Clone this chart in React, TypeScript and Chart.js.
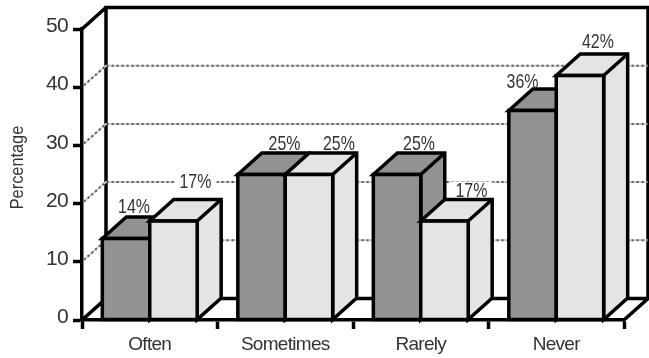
import { useEffect, useRef } from "react";
import { Chart, registerables } from "chart.js";

Chart.register(...registerables);

const categories = ["Often", "Sometimes", "Rarely", "Never"];
const seriesA = [14, 25, 25, 36];
const seriesB = [17, 25, 17, 42];
const gridValues = [10, 20, 30, 40];

// Depth of the extruded box, in canvas pixels.
const DEPTH_X = 24;
const DEPTH_Y = -21.5;
const OUTLINE = 3.5;
const DARK = "#929292";
const LIGHT = "#e4e4e4";
const TEXT = "#333";
const FONT_FAMILY = '"Liberation Sans", sans-serif';
const SQUEEZE = 0.76;

// Hand-placed label offsets from each bar's top face centre.
const labelNudgeA = [[-4, -4.5], [11, -3], [10, -3], [-22, -1]];
const labelNudgeB = [[10, -12], [18, -3], [15, -3], [6, -6]];

function paintDepth(chart: any, index: number) {
  const { ctx } = chart;
  const meta = chart.getDatasetMeta(index);
  ctx.save();
  ctx.lineWidth = OUTLINE;
  ctx.strokeStyle = "#000";
  ctx.lineJoin = "miter";
  ctx.fillStyle = chart.data.datasets[index].backgroundColor;
  meta.data.forEach((bar: any) => {
    const { x, y, base, width } = bar.getProps(["x", "y", "base", "width"], true);
    const l = x - width / 2;
    const r = x + width / 2;
    ctx.beginPath();
    ctx.moveTo(l, y);
    ctx.lineTo(l + DEPTH_X, y + DEPTH_Y);
    ctx.lineTo(r + DEPTH_X, y + DEPTH_Y);
    ctx.lineTo(r + DEPTH_X, base + DEPTH_Y);
    ctx.lineTo(r, base);
    ctx.lineTo(r, y);
    ctx.closePath();
    ctx.fill();
    ctx.stroke();
    ctx.beginPath();
    ctx.moveTo(r, y);
    ctx.lineTo(r + DEPTH_X, y + DEPTH_Y);
    ctx.stroke();
  });
  ctx.restore();
}

function paintOutline(chart: any, index: number) {
  const { ctx } = chart;
  ctx.save();
  ctx.lineWidth = OUTLINE;
  ctx.strokeStyle = "#000";
  chart.getDatasetMeta(index).data.forEach((bar: any) => {
    const { x, y, base, width } = bar.getProps(["x", "y", "base", "width"], true);
    // Centred on the bar's edge so neighbouring boxes share one line.
    ctx.strokeRect(x - width / 2, y, width, base - y);
  });
  ctx.restore();
}

const boxDepth = {
  id: "boxDepth",
  beforeDraw(chart: any) {
    // The axis text is set a little tighter than the stock face.
    chart.ctx.letterSpacing = "-0.7px";
  },
  // Back walls and floor, behind every bar.
  beforeDatasetsDraw(chart: any) {
    const { ctx, chartArea: a, scales } = chart;
    const y = scales.y;
    ctx.save();
    ctx.strokeStyle = "#000";
    ctx.lineWidth = OUTLINE;
    ctx.lineCap = "square";
    ctx.beginPath();
    ctx.moveTo(a.left, a.top);
    ctx.lineTo(a.left + DEPTH_X, a.top + DEPTH_Y);
    ctx.lineTo(a.right + DEPTH_X, a.top + DEPTH_Y);
    ctx.lineTo(a.right + DEPTH_X, a.bottom + DEPTH_Y);
    ctx.lineTo(a.right, a.bottom);
    ctx.moveTo(a.left + DEPTH_X, a.top + DEPTH_Y);
    ctx.lineTo(a.left + DEPTH_X, a.bottom + DEPTH_Y);
    ctx.lineTo(a.right + DEPTH_X, a.bottom + DEPTH_Y);
    ctx.moveTo(a.left, a.bottom);
    ctx.lineTo(a.left + DEPTH_X, a.bottom + DEPTH_Y);
    ctx.stroke();
    ctx.lineCap = "butt";
    gridValues.forEach((v) => {
      const py = y.getPixelForValue(v);
      ctx.lineWidth = 2;
      ctx.strokeStyle = "#cfcfcf";
      ctx.setLineDash([]);
      ctx.beginPath();
      ctx.moveTo(a.left + 2, py - 2);
      ctx.lineTo(a.left + DEPTH_X, py + DEPTH_Y);
      ctx.lineTo(a.right + DEPTH_X, py + DEPTH_Y);
      ctx.stroke();
      ctx.strokeStyle = "#555";
      ctx.setLineDash([2, 3]);
      ctx.beginPath();
      ctx.moveTo(a.left + 2, py - 2);
      ctx.lineTo(a.left + DEPTH_X, py + DEPTH_Y);
      ctx.lineTo(a.right + DEPTH_X, py + DEPTH_Y);
      ctx.stroke();
    });
    ctx.restore();
  },
  // The library would paint the last series first; the boxes need left to right.
  beforeDatasetDraw() {
    return false;
  },
  afterDatasetsDraw(chart: any) {
    const { ctx } = chart;
    chart.data.datasets.forEach((_: any, i: number) => {
      paintDepth(chart, i);
      chart.getDatasetMeta(i).controller.draw();
      paintOutline(chart, i);
    });
    ctx.save();
    ctx.letterSpacing = "0px";
    ctx.font = `21px ${FONT_FAMILY}`;
    ctx.textAlign = "center";
    ctx.textBaseline = "alphabetic";
    // Percentage labels sit on a white patch that interrupts the grid.
    chart.data.datasets.forEach((ds: any, i: number) => {
      const nudge = i === 0 ? labelNudgeA : labelNudgeB;
      chart.getDatasetMeta(i).data.forEach((bar: any, j: number) => {
        const { x, y } = bar.getProps(["x", "y"], true);
        const text = `${ds.data[j]}%`;
        const cx = x + DEPTH_X / 2 + nudge[j][0];
        const by = y + DEPTH_Y + nudge[j][1];
        const w = ctx.measureText(text).width * SQUEEZE;
        ctx.fillStyle = "#fff";
        ctx.fillRect(cx - w / 2 - 5, by - 15, w + 10, 12);
        ctx.save();
        ctx.translate(cx, by);
        ctx.scale(SQUEEZE, 1);
        ctx.fillStyle = TEXT;
        ctx.fillText(text, 0, 0);
        ctx.restore();
      });
    });
    // Axis caption, upright along the left edge.
    ctx.font = `19px ${FONT_FAMILY}`;
    ctx.translate(18, 167.5);
    ctx.rotate(-Math.PI / 2);
    ctx.scale(0.86, 1);
    ctx.textBaseline = "middle";
    ctx.fillStyle = TEXT;
    ctx.fillText("Percentage", 0, 0);
    ctx.restore();
  },
};

export default function App() {
  const ref = useRef<HTMLCanvasElement>(null);
  useEffect(() => {
    document.body.style.margin = "0";
    const chart = new Chart(ref.current!, {
      type: "bar",
      data: {
        labels: categories,
        datasets: [
          { label: "A", data: seriesA, backgroundColor: DARK, categoryPercentage: 0.7, barPercentage: 1 },
          { label: "B", data: seriesB, backgroundColor: LIGHT, categoryPercentage: 0.7, barPercentage: 1 },
        ],
      },
      plugins: [boxDepth],
      options: {
        animation: false,
        responsive: false,
        events: [],
        layout: { padding: { left: 0, right: 25, top: 29, bottom: 0 } },
        plugins: { legend: { display: false }, tooltip: { enabled: false } },
        scales: {
          x: {
            z: 1,
            border: { color: "#000", width: OUTLINE },
            grid: { offset: true, drawOnChartArea: false, tickLength: 9, tickWidth: OUTLINE, tickColor: "#000" },
            ticks: { color: TEXT, padding: 4, font: { family: FONT_FAMILY, size: 19 }, maxRotation: 0 },
            afterFit(s: any) { s.height = 38; },
          },
          y: {
            min: 0,
            max: 50,
            z: 1,
            border: { color: "#000", width: OUTLINE },
            grid: { drawOnChartArea: false, tickLength: 9, tickWidth: OUTLINE, tickColor: "#000" },
            ticks: {
              stepSize: 10,
              color: TEXT,
              padding: 5,
              font: { family: FONT_FAMILY, size: 21, lineHeight: "5px" },
              callback: (v: any) => [String(v), ""],
            },
            afterFit(s: any) { s.width = 82; },
          },
        },
      },
    } as any);
    return () => chart.destroy();
  }, []);
  return <canvas ref={ref} width={649} height={358} style={{ display: "block" }} />;
}
